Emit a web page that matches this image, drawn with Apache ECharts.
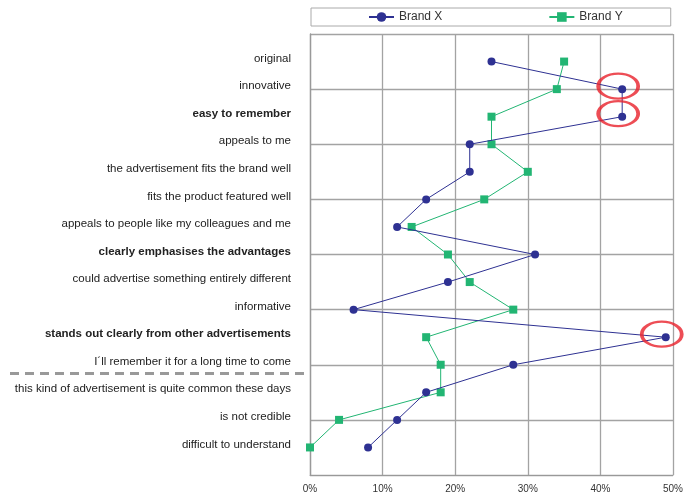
<!DOCTYPE html>
<html>
<head>
<meta charset="utf-8">
<script src="https://cdn.jsdelivr.net/npm/echarts@6/dist/echarts.min.js"></script>
<style>html,body{margin:0;padding:0;background:#fff}#c{width:691px;height:496px}</style>
</head>
<body>
<div id="c"></div>
<script>
var categories = [
  'original',
  'innovative',
  'easy to remember',
  'appeals to me',
  'the advertisement fits the brand well',
  'fits the product featured well',
  'appeals to people like my colleagues and me',
  'clearly emphasises the advantages',
  'could advertise something entirely different',
  'informative',
  'stands out clearly from other advertisements',
  'I\u00b4ll remember it for a long time to come',
  'this kind of advertisement is quite common these days',
  'is not credible',
  'difficult to understand'
];
var boldCategories = ['easy to remember', 'clearly emphasises the advantages', 'stands out clearly from other advertisements'];
var brandX = [25, 43, 43, 22, 22, 16, 12, 31, 19, 6, 49, 28, 16, 12, 8];
var brandY = [35, 34, 25, 25, 30, 24, 14, 19, 22, 28, 16, 18, 18, 4, 0];
var highlighted = ['innovative', 'easy to remember', 'stands out clearly from other advertisements'];
var xTicks = [0, 10, 20, 30, 40, 50];

var axisCats = [''].concat(categories, ['']);
function pad(arr) { return ['-'].concat(arr, ['-']); }
var circleData = highlighted.map(function (c) { return [brandX[categories.indexOf(c)], c]; });

var FONT = 'Liberation Sans, Arial, sans-serif';
var chart = echarts.init(document.getElementById('c'));
chart.setOption({
  animation: false,
  textStyle: { fontFamily: FONT },
  grid: { left: 310, right: 18, top: 34, bottom: 21 },
  legend: {
    data: ['Brand X', 'Brand Y'],
    left: 311, top: 8,
    padding: [3, 48, 3, 57],
    itemGap: 106,
    itemWidth: 25, itemHeight: 12,
    borderColor: '#aaa', borderWidth: 1,
    textStyle: { fontSize: 12, color: '#333', fontFamily: FONT }
  },
  xAxis: {
    type: 'value', min: 0, max: 50, interval: 10,
    axisLine: { show: true, lineStyle: { color: '#999' } },
    axisTick: { show: false },
    splitLine: { show: true, lineStyle: { color: '#a3a3a3', width: 1.3 } },
    axisLabel: { fontSize: 10, color: '#333', margin: 9, formatter: function (v) { return v + '%'; } }
  },
  yAxis: {
    type: 'category', data: axisCats, inverse: true, boundaryGap: false,
    axisLine: { show: true, lineStyle: { color: '#999', width: 1.3 } },
    axisTick: { show: false },
    splitLine: { show: true, interval: function (i) { return i % 2 === 0; }, lineStyle: { color: '#a3a3a3', width: 1.3 } },
    axisLabel: {
      interval: 0, margin: 19, fontSize: 11.5, color: '#222',
      padding: [0, 0, 6, 0],
      formatter: function (v) { return boldCategories.indexOf(v) >= 0 ? '{b|' + v + '}' : v; },
      rich: { b: { fontWeight: 'bold', fontSize: 11.5, color: '#222', fontFamily: FONT } }
    }
  },
  graphic: [{
    type: 'line', silent: true,
    shape: { x1: 10, y1: 373.5, x2: 305, y2: 373.5 },
    style: { stroke: '#999', lineWidth: 3, lineDash: [9, 6] }
  }],
  series: [
    {
      name: 'Brand X', type: 'line', data: pad(brandX),
      symbol: 'circle', symbolSize: 8,
      lineStyle: { color: '#2e3192', width: 1 },
      itemStyle: { color: '#2e3192' }, z: 3
    },
    {
      name: 'Brand Y', type: 'line', data: pad(brandY),
      symbol: 'rect', symbolSize: 8,
      lineStyle: { color: '#22b573', width: 1 },
      itemStyle: { color: '#22b573' }, z: 2
    },
    {
      name: 'highlight', type: 'scatter', data: circleData,
      symbol: 'circle', symbolSize: [40, 25], symbolOffset: [-4, -3],
      itemStyle: { color: 'rgba(0,0,0,0)', borderColor: '#e8202a', borderWidth: 3 },
      z: 4, silent: true
    }
  ]
});
</script>
</body>
</html>
